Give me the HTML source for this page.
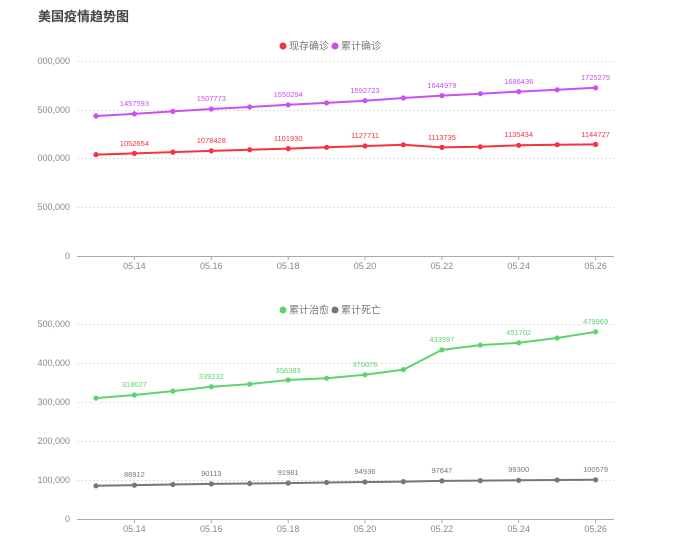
<!DOCTYPE html>
<html><head><meta charset="utf-8"><style>
html,body{margin:0;padding:0;background:#fff;}
svg{display:block;font-family:"Liberation Sans","Noto Sans CJK SC",sans-serif;}
.t{font-size:9px;fill:#888;}
.g{stroke:#ddd;stroke-width:1;stroke-dasharray:2,2;}
</style></head><body>
<svg width="700" height="546" viewBox="0 0 700 546">
<text x="38" y="21" font-size="13" font-weight="bold" fill="#444">美国疫情趋势图</text>

<!-- top legend -->
<circle cx="283" cy="46" r="3.5" fill="#f5333f"/><text x="289" y="49.5" font-size="10" fill="#777">现存确诊</text>
<circle cx="335" cy="46" r="3.5" fill="#cc4ff0"/><text x="341" y="49.5" font-size="10" fill="#777">累计确诊</text>

<g class="t" text-anchor="end">
<text x="70" y="64">000,000</text><text x="70" y="113">500,000</text><text x="70" y="161">000,000</text><text x="70" y="210">500,000</text><text x="70" y="259">0</text>
</g>
<line class="g" x1="77" x2="614" y1="61.5" y2="61.5"/><line class="g" x1="77" x2="614" y1="110.5" y2="110.5"/><line class="g" x1="77" x2="614" y1="158.5" y2="158.5"/><line class="g" x1="77" x2="614" y1="207.5" y2="207.5"/>
<line x1="77" x2="614" y1="256.5" y2="256.5" stroke="#aaa"/>
<g stroke="#aaa"><line x1="134.4" x2="134.4" y1="256" y2="260"/><line x1="211.3" x2="211.3" y1="256" y2="260"/><line x1="288.2" x2="288.2" y1="256" y2="260"/><line x1="365" x2="365" y1="256" y2="260"/><line x1="441.9" x2="441.9" y1="256" y2="260"/><line x1="518.7" x2="518.7" y1="256" y2="260"/><line x1="595.6" x2="595.6" y1="256" y2="260"/></g>
<g class="t" text-anchor="middle"><text x="134.4" y="269">05.14</text><text x="211.3" y="269">05.16</text><text x="288.2" y="269">05.18</text><text x="365" y="269">05.20</text><text x="441.9" y="269">05.22</text><text x="518.7" y="269">05.24</text><text x="595.6" y="269">05.26</text></g>

<polyline fill="none" stroke="#cc4ff0" stroke-width="2" points="96,116 134.4,113.9 172.9,111.4 211.3,109 249.7,107 288.2,104.8 326.6,102.9 365,100.7 403.4,98 441.9,95.6 480.3,93.7 518.7,91.6 557.2,89.8 595.6,87.8"/>
<g fill="#cc4ff0"><circle cx="96" cy="116" r="2.6"/><circle cx="134.4" cy="113.9" r="2.6"/><circle cx="172.9" cy="111.4" r="2.6"/><circle cx="211.3" cy="109" r="2.6"/><circle cx="249.7" cy="107" r="2.6"/><circle cx="288.2" cy="104.8" r="2.6"/><circle cx="326.6" cy="102.9" r="2.6"/><circle cx="365" cy="100.7" r="2.6"/><circle cx="403.4" cy="98" r="2.6"/><circle cx="441.9" cy="95.6" r="2.6"/><circle cx="480.3" cy="93.7" r="2.6"/><circle cx="518.7" cy="91.6" r="2.6"/><circle cx="557.2" cy="89.8" r="2.6"/><circle cx="595.6" cy="87.8" r="2.6"/></g>
<g fill="#cc4ff0" font-size="7.5" text-anchor="middle"><text x="134.4" y="106">1457593</text><text x="211.3" y="101">1507773</text><text x="288.2" y="97">1550294</text><text x="365" y="93">1592723</text><text x="441.9" y="88">1644979</text><text x="518.7" y="84">1686436</text><text x="595.6" y="80">1725275</text></g>

<polyline fill="none" stroke="#f5333f" stroke-width="2" points="96,154.6 134.4,153.4 172.9,152.1 211.3,150.9 249.7,149.7 288.2,148.6 326.6,147.3 365,146 403.4,144.8 441.9,147.4 480.3,146.8 518.7,145.3 557.2,144.7 595.6,144.4"/>
<g fill="#f5333f"><circle cx="96" cy="154.6" r="2.6"/><circle cx="134.4" cy="153.4" r="2.6"/><circle cx="172.9" cy="152.1" r="2.6"/><circle cx="211.3" cy="150.9" r="2.6"/><circle cx="249.7" cy="149.7" r="2.6"/><circle cx="288.2" cy="148.6" r="2.6"/><circle cx="326.6" cy="147.3" r="2.6"/><circle cx="365" cy="146" r="2.6"/><circle cx="403.4" cy="144.8" r="2.6"/><circle cx="441.9" cy="147.4" r="2.6"/><circle cx="480.3" cy="146.8" r="2.6"/><circle cx="518.7" cy="145.3" r="2.6"/><circle cx="557.2" cy="144.7" r="2.6"/><circle cx="595.6" cy="144.4" r="2.6"/></g>
<g fill="#f5333f" font-size="7.5" text-anchor="middle"><text x="134.4" y="146">1052654</text><text x="211.3" y="143">1078428</text><text x="288.2" y="141">1101930</text><text x="365" y="138">1127711</text><text x="441.9" y="140">1113735</text><text x="518.7" y="137">1135434</text><text x="595.6" y="137">1144727</text></g>

<!-- bottom legend -->
<circle cx="283" cy="310" r="3.5" fill="#5fd36f"/><text x="289" y="313.5" font-size="10" fill="#777">累计治愈</text>
<circle cx="335" cy="310" r="3.5" fill="#777"/><text x="341" y="313.5" font-size="10" fill="#777">累计死亡</text>

<g class="t" text-anchor="end">
<text x="70" y="327">500,000</text><text x="70" y="366">400,000</text><text x="70" y="405">300,000</text><text x="70" y="444">200,000</text><text x="70" y="483">100,000</text><text x="70" y="522">0</text>
</g>
<line class="g" x1="77" x2="614" y1="324.5" y2="324.5"/><line class="g" x1="77" x2="614" y1="363.5" y2="363.5"/><line class="g" x1="77" x2="614" y1="402.5" y2="402.5"/><line class="g" x1="77" x2="614" y1="441.5" y2="441.5"/><line class="g" x1="77" x2="614" y1="480.5" y2="480.5"/>
<line x1="77" x2="614" y1="519.5" y2="519.5" stroke="#aaa"/>
<g stroke="#aaa"><line x1="134.4" x2="134.4" y1="519" y2="523"/><line x1="211.3" x2="211.3" y1="519" y2="523"/><line x1="288.2" x2="288.2" y1="519" y2="523"/><line x1="365" x2="365" y1="519" y2="523"/><line x1="441.9" x2="441.9" y1="519" y2="523"/><line x1="518.7" x2="518.7" y1="519" y2="523"/><line x1="595.6" x2="595.6" y1="519" y2="523"/></g>
<g class="t" text-anchor="middle"><text x="134.4" y="532">05.14</text><text x="211.3" y="532">05.16</text><text x="288.2" y="532">05.18</text><text x="365" y="532">05.20</text><text x="441.9" y="532">05.22</text><text x="518.7" y="532">05.24</text><text x="595.6" y="532">05.26</text></g>

<polyline fill="none" stroke="#5fd36f" stroke-width="2" points="96,398.1 134.4,395 172.9,391.1 211.3,386.7 249.7,384.1 288.2,380 326.6,378.2 365,374.7 403.4,369.6 441.9,349.9 480.3,345.1 518.7,342.8 557.2,338 595.6,331.8"/>
<g fill="#5fd36f"><circle cx="96" cy="398.1" r="2.6"/><circle cx="134.4" cy="395" r="2.6"/><circle cx="172.9" cy="391.1" r="2.6"/><circle cx="211.3" cy="386.7" r="2.6"/><circle cx="249.7" cy="384.1" r="2.6"/><circle cx="288.2" cy="380" r="2.6"/><circle cx="326.6" cy="378.2" r="2.6"/><circle cx="365" cy="374.7" r="2.6"/><circle cx="403.4" cy="369.6" r="2.6"/><circle cx="441.9" cy="349.9" r="2.6"/><circle cx="480.3" cy="345.1" r="2.6"/><circle cx="518.7" cy="342.8" r="2.6"/><circle cx="557.2" cy="338" r="2.6"/><circle cx="595.6" cy="331.8" r="2.6"/></g>
<g fill="#5fd36f" font-size="7.5" text-anchor="middle"><text x="134.4" y="387">318027</text><text x="211.3" y="379">339232</text><text x="288.2" y="373">356383</text><text x="365" y="367">370076</text><text x="441.9" y="342">433597</text><text x="518.7" y="335">451702</text><text x="595.6" y="324">479969</text></g>

<polyline fill="none" stroke="#777" stroke-width="2" points="96,485.8 134.4,485.1 172.9,484.5 211.3,483.9 249.7,483.5 288.2,483.1 326.6,482.5 365,482 403.4,481.6 441.9,480.9 480.3,480.6 518.7,480.3 557.2,480 595.6,479.8"/>
<g fill="#777"><circle cx="96" cy="485.8" r="2.6"/><circle cx="134.4" cy="485.1" r="2.6"/><circle cx="172.9" cy="484.5" r="2.6"/><circle cx="211.3" cy="483.9" r="2.6"/><circle cx="249.7" cy="483.5" r="2.6"/><circle cx="288.2" cy="483.1" r="2.6"/><circle cx="326.6" cy="482.5" r="2.6"/><circle cx="365" cy="482" r="2.6"/><circle cx="403.4" cy="481.6" r="2.6"/><circle cx="441.9" cy="480.9" r="2.6"/><circle cx="480.3" cy="480.6" r="2.6"/><circle cx="518.7" cy="480.3" r="2.6"/><circle cx="557.2" cy="480" r="2.6"/><circle cx="595.6" cy="479.8" r="2.6"/></g>
<g fill="#777" font-size="7.5" text-anchor="middle"><text x="134.4" y="477">86912</text><text x="211.3" y="476">90113</text><text x="288.2" y="475">91981</text><text x="365" y="474">94936</text><text x="441.9" y="473">97647</text><text x="518.7" y="472">99300</text><text x="595.6" y="472">100579</text></g>
</svg>
</body></html>
